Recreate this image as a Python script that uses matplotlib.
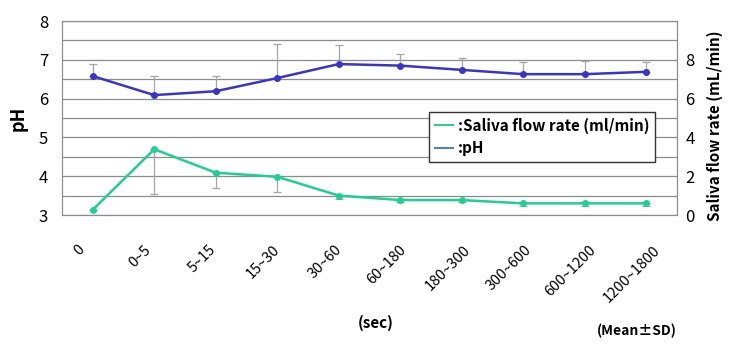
import numpy as np
import matplotlib
matplotlib.use('Agg')
import matplotlib.pyplot as plt
import matplotlib.transforms as mtransforms
from matplotlib.lines import Line2D

plt.rcParams['font.family'] = ['Noto Sans CJK JP', 'DejaVu Sans']

# data
categories = ['0', '0~5', '5~15', '15~30', '30~60', '60~180',
              '180~300', '300~600', '600~1200', '1200~1800']
ph_mean = [6.58, 6.09, 6.19, 6.53, 6.89, 6.85, 6.74, 6.63, 6.63, 6.69]
ph_sd = [0.30, 0.50, 0.40, 0.87, 0.50, 0.30, 0.30, 0.31, 0.34, 0.25]
flow_mean = [0.27, 3.39, 2.18, 1.97, 1.00, 0.77, 0.77, 0.60, 0.60, 0.60]
flow_sd = [0.0, 2.32, 0.80, 0.80, 0.20, 0.10, 0.10, 0.12, 0.12, 0.12]

ph_color = '#3a35c8'
flow_color = '#1fcf95'
err_color = '#a6a6a6'

fig = plt.figure(figsize=(7.36, 3.52), dpi=100)
ax = fig.add_axes([62 / 736, 1 - 215 / 352, 615 / 736, 194 / 352])
ax2 = ax.twinx()

x = np.arange(len(categories))

ax.errorbar(x, ph_mean, yerr=[np.zeros(len(x)), ph_sd], fmt='none',
            ecolor=err_color, elinewidth=0.9, capsize=3, capthick=0.9, zorder=2)
ax.plot(x, ph_mean, color=ph_color, lw=1.8, marker='o', ms=4, zorder=3)

ax2.errorbar(x, flow_mean, yerr=[flow_sd, np.zeros(len(x))], fmt='none',
             ecolor=err_color, elinewidth=0.9, capsize=3, capthick=0.9, zorder=2)
ax2.plot(x, flow_mean, color=flow_color, lw=1.8, marker='o', ms=4, zorder=3)

ax.set_xlim(-0.5, len(categories) - 0.5)
ax.set_ylim(3, 8)
ax2.set_ylim(0, 10)
ax.set_yticks([3, 4, 5, 6, 7, 8])
ax.set_yticks(np.arange(3, 8.01, 0.5), minor=True)
ax2.set_yticks([0, 2, 4, 6, 8])
ax.grid(True, which='both', axis='y', color='#8c8c8c', lw=0.9)
ax.set_axisbelow(True)

for a in (ax, ax2):
    for s in a.spines.values():
        s.set_color('#8c8c8c')
    a.tick_params(length=0, which='both')
ax.tick_params(axis='y', labelsize=12, pad=10)
ax2.tick_params(axis='y', labelsize=12, pad=6)

ax.set_xticks(x)
ax.set_xticklabels(categories, rotation=45, ha='center', va='top', fontsize=10.5)
ax.tick_params(axis='x', pad=20)
shift = mtransforms.ScaledTranslation(-10 / 72, 0, fig.dpi_scale_trans)
for lab in ax.get_xticklabels():
    lab.set_transform(lab.get_transform() + shift)

ax.set_ylabel('pH', fontsize=13, fontweight='bold', labelpad=8)
ax2.set_ylabel('Saliva flow rate (mL/min)', fontsize=11, fontweight='bold')
ax2.yaxis.set_label_coords(1.048, 0.46)

fig.text(376 / 736, 1 - 323 / 352, '(sec)', fontsize=11, fontweight='bold',
         ha='center', va='center')
fig.text(637 / 736, 1 - 331 / 352, '(Mean±SD)', fontsize=10, fontweight='bold',
         ha='center', va='center')

handles = [Line2D([], [], color='#2ecc8f', lw=1.5),
           Line2D([], [], color='#4f81bd', lw=1.5)]
leg = ax2.legend(handles, [':Saliva flow rate (ml/min)', ':pH'],
                 loc='upper left', bbox_to_anchor=(0.584, 0.572),
                 fancybox=False, framealpha=1, edgecolor='#333333',
                 handlelength=1.2, handletextpad=0.3, borderpad=0.4,
                 labelspacing=0.4, prop={'size': 11, 'weight': 'bold'})
leg.get_frame().set_linewidth(1.0)

fig.savefig('out.png', dpi=100, facecolor='white')
